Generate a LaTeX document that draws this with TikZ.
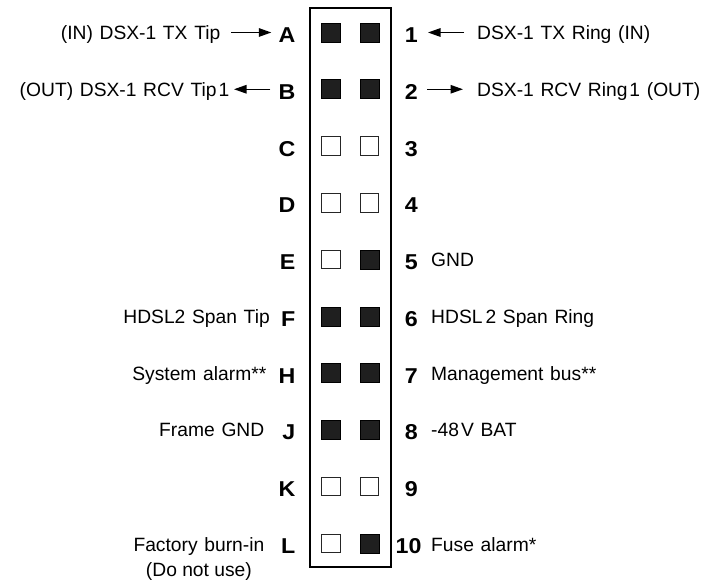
\documentclass[tikz,border=0pt]{standalone}
\usepackage{fontspec}
\setmainfont{Liberation Sans}
\newfontfamily\widefam{Liberation Sans}[WordSpace={1.25,0,0}]
\newfontfamily\pinfam{Liberation Sans}[FakeStretch=1.08]
\usetikzlibrary{arrows.meta,calc}
\begin{document}
\begin{tikzpicture}[x=1bp,y=-1bp,
  lbl/.style={inner sep=0pt, font=\widefam\fontsize{19.25bp}{25bp}\selectfont},
  lblmid/.style={inner sep=0pt, font=\fontsize{19.25bp}{25bp}\selectfont},
  pinid/.style={inner sep=0pt, font=\pinfam\fontsize{21.5bp}{24bp}\selectfont\bfseries},
  pinon/.style={draw=black, fill=black!88, minimum size=19bp, inner sep=0pt, line width=0.6bp},
  pinoff/.style={draw=black!85, fill=white, minimum size=18.5bp, inner sep=0pt, line width=1bp},
  arr/.style={line width=1.3bp, -{Triangle[length=12.5bp,width=8.5bp]}},
]
\useasboundingbox (0,0) rectangle (705,580);
\node[draw, line width=2bp, minimum width=81bp, minimum height=559bp, inner sep=0pt] (box) at (350.5,287.5) {};

\foreach \i/\L/\N/\l/\r in {0/A/1/on/on, 1/B/2/on/on, 2/C/3/off/off, 3/D/4/off/off, 4/E/5/off/on,
    5/F/6/on/on, 6/H/7/on/on, 7/J/8/on/on, 8/K/9/off/off}{
  \pgfmathsetmacro\y{32.5+\i*56.76}
  \node[pin\l] (l\N) at (331,\y) {};
  \node[pin\r] (r\N) at (369.5,\y) {};
  \node[pinid, anchor=base east] (let\N) at (295.5,\y+10) {\L};
  \node[pinid, anchor=base east] (num\N) at (418,\y+10) {\N};
}
% row 10
\node[pinoff] (l10) at (331,543.34) {};
\node[pinon] (r10) at (369.5,543.34) {};
\node[pinid, anchor=base east] (let10) at (295.5,553.3) {L};
\node[pinid, anchor=base west] (num10) at (395.5,553.3) {10};

% left labels
\node[lbl, anchor=base east] (tA) at (220.5,39.5) {(IN) DSX-1 TX Tip};
\node[lbl, anchor=base east] (tB) at (229.5,96.3) {(OUT) DSX-1 RCV Tip\hspace{2bp}1};
\node[lbl, anchor=base east] (tF) at (270,323.3) {HDSL2 Span Tip};
\node[lbl, anchor=base east] (tH) at (266.5,380) {System alarm**};
\node[lbl, anchor=base east] (tJ) at (264.5,436.8) {Frame GND};
\node[lbl, anchor=base east] (tL) at (264.5,551) {Factory burn-in};
\node[lblmid, anchor=base] (tL2) at ($(tL.base)+(0,25)$) {(Do not use)};

% right labels
\node[lbl, anchor=base west] (t1) at (477,39.5) {DSX-1 TX Ring (IN)};
\node[lbl, anchor=base west] (t2) at (477,96.3) {DSX-1 RCV Ring\hspace{2bp}1 (OUT)};
\node[lbl, anchor=base west] (t5) at (431,266.5) {GND};
\node[lbl, anchor=base west] (t6) at (431,323.3) {HDSL\hspace{3bp}2 Span Ring};
\node[lbl, anchor=base west] (t7) at (431,380) {Management bus**};
\node[lbl, anchor=base west] (t8) at (431,436.8) {-48\hspace{2bp}V BAT};
\node[lbl, anchor=base west] (t10) at (431,551) {Fuse alarm*};

% arrows
\draw[arr] ($(tA.east |- l1.center)+(10.5,0)$) -- ($(let1.west |- l1.center)+(-7,0)$);
\draw[arr] ($(let2.west |- l2.center)+(-8,0)$) -- ($(tB.east |- l2.center)+(4.5,0)$);
\draw[arr] ($(t1.west |- l1.center)+(-13,0)$) -- ($(num1.east |- l1.center)+(10,0)$);
\draw[arr] ($(num2.east |- l2.center)+(9,0)$) -- ($(t2.west |- l2.center)+(-14,0)$);
\end{tikzpicture}
\end{document}
